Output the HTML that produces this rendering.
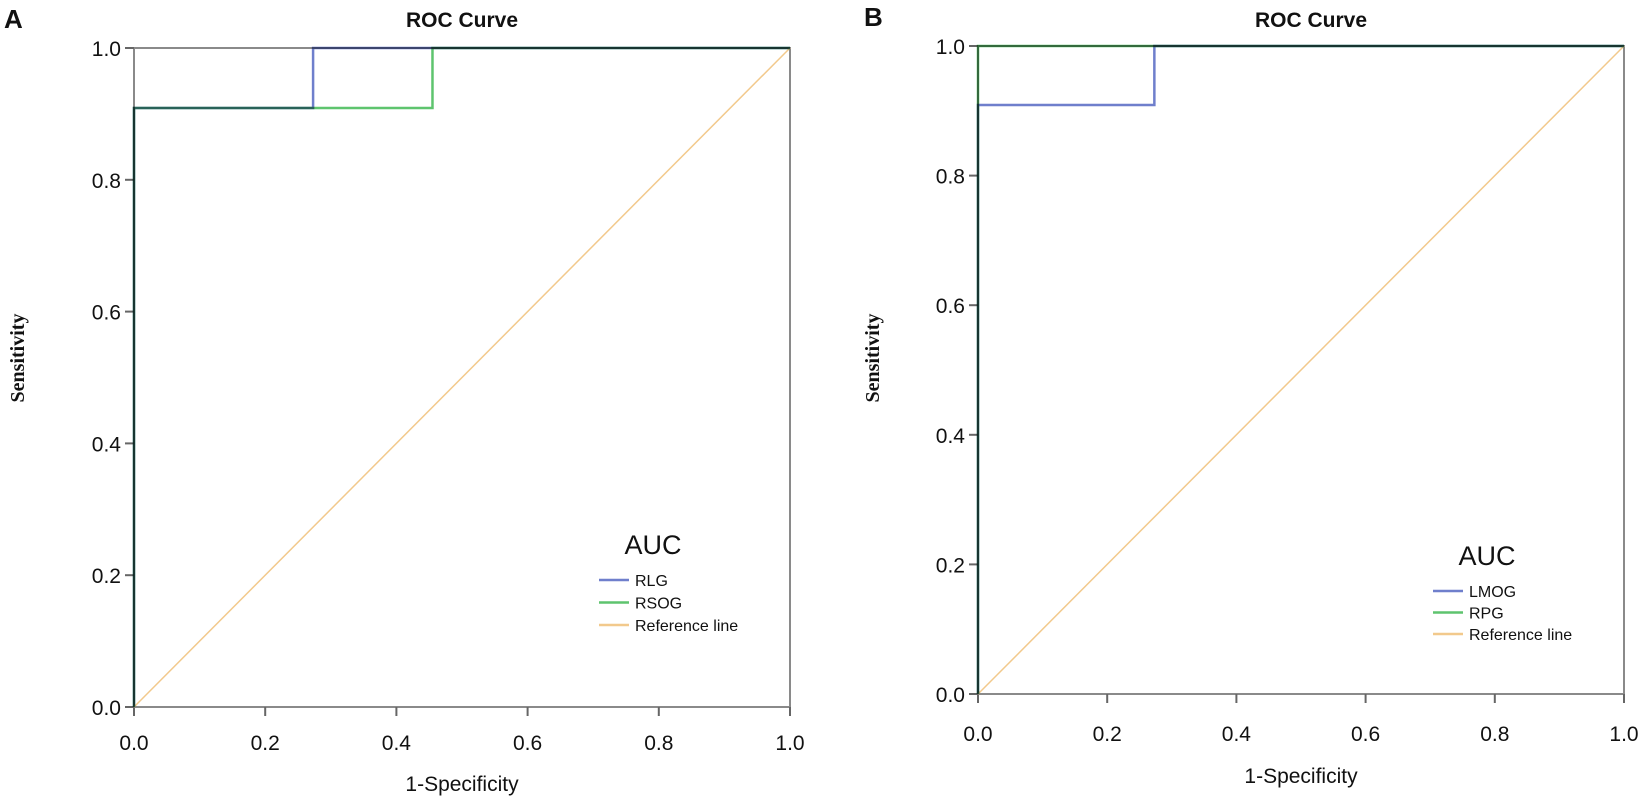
<!DOCTYPE html>
<html><head><meta charset="utf-8"><style>
html,body{margin:0;padding:0;background:#fff;}
svg{display:block;}
text{font-family:"Liberation Sans",sans-serif;fill:#111;}
.ser{mix-blend-mode:multiply;}
</style></head><body>
<svg id="fig" width="1650" height="801" viewBox="0 0 1650 801">
<rect x="0" y="0" width="1650" height="801" fill="#fff"/>
<text x="4" y="28" font-size="26" font-weight="bold">A</text>
<text x="864" y="26" font-size="26" font-weight="bold">B</text>
</svg>
<script>
// Panel A data
var panelATitle = "ROC Curve";
var aSeriesNames = ["RLG", "RSOG", "Reference line"];
var aRLGx = [0, 0, 0.273, 0.273, 1];
var aRLGy = [0, 0.909, 0.909, 1, 1];
var aRSOGx = [0, 0, 0.455, 0.455, 1];
var aRSOGy = [0, 0.909, 0.909, 1, 1];
// Panel B data
var bSeriesNames = ["LMOG", "RPG", "Reference line"];
var bLMOGx = [0, 0, 0.273, 0.273, 1];
var bLMOGy = [0, 0.909, 0.909, 1, 1];
var bRPGx = [0, 0, 1];
var bRPGy = [0, 1, 1];
var refX = [0, 1];
var refY = [0, 1];
var tickValues = [0, 0.2, 0.4, 0.6, 0.8, 1.0];
var tickLabels = ["0.0", "0.2", "0.4", "0.6", "0.8", "1.0"];

var NS = "http://www.w3.org/2000/svg";
var svg = document.getElementById("fig");
function mk(tag, attrs, parent) {
  var e = document.createElementNS(NS, tag);
  for (var k in attrs) e.setAttribute(k, attrs[k]);
  (parent || svg).appendChild(e);
  return e;
}
var COLORS = {blue: "#6f7fcc", green: "#5ec46e", ref: "#f2c98c"};

function drawPanel(p) {
  var g = mk("g", {});
  
  
  function sx(v) { return p.x0 + v * (p.x1 - p.x0); }
  function sy(v) { return p.y0 - v * (p.y0 - p.y1); }
  var t = mk("text", {x: p.titleX, y: 27, "font-size": 21, "font-weight": "bold", "text-anchor": "middle"}, g);
  t.textContent = panelATitle;
  
  
  var fr = mk("rect", {x: p.x0, y: p.y1, width: p.x1 - p.x0, height: p.y0 - p.y1, fill: "none", stroke: "#8a8a8a", "stroke-width": 2}, g);
  
  
  for (var i = 0; i < tickValues.length; i++) {
    var yy = sy(tickValues[i]);
    var tk = mk("line", {x1: p.x0 - 9, x2: p.x0, y1: yy, y2: yy, stroke: "#666", "stroke-width": 2}, g);
    
    
    var tl = mk("text", {x: p.x0 - 13, y: yy + 8, "font-size": 21, "text-anchor": "end"}, g);
    tl.textContent = tickLabels[i];
    
    
    var xx = sx(tickValues[i]);
    var tk2 = mk("line", {x1: xx, x2: xx, y1: p.y0, y2: p.y0 + 9, stroke: "#666", "stroke-width": 2}, g);
    
    
    var tl2 = mk("text", {x: xx, y: p.xLabY, "font-size": 21, "text-anchor": "middle"}, g);
    tl2.textContent = tickLabels[i];
    
    
  }
  var rp = refX.map(function (v, i) { return sx(v) + "," + sy(refY[i]); }).join(" ");
  var rl = mk("polyline", {points: rp, fill: "none", stroke: COLORS.ref, "stroke-width": 1.5}, g);
  
  
  p.series.forEach(function (s) {
    var pts = s.x.map(function (v, i) { return sx(v) + "," + sy(s.y[i]); }).join(" ");
    var pl = mk("polyline", {points: pts, fill: "none", stroke: s.color, "stroke-width": 2.5, "class": "ser"}, g);
    
    
  });
  var yt = mk("text", {x: 0, y: 0, "font-size": 20, "font-weight": "bold", "text-anchor": "middle", transform: "translate(" + p.yTitleX + "," + p.yTitleY + ") rotate(-90)", style: "font-family:'Liberation Serif',serif"}, g);
  yt.textContent = "Sensitivity";
  
  
  var xt = mk("text", {x: (p.x0 + p.x1) / 2, y: p.xTitleY, "font-size": 21, "text-anchor": "middle"}, g);
  xt.textContent = "1-Specificity";
  
  
  var lg = mk("g", {}, g);
  
  
  var at = mk("text", {x: p.legX + 54, y: p.legY - 26, "font-size": 27, "text-anchor": "middle"}, lg);
  at.textContent = "AUC";
  
  
  var cols = [COLORS.blue, COLORS.green, COLORS.ref];
  for (var j = 0; j < 3; j++) {
    var ly = p.legY + j * p.legStep;
    var ll = mk("line", {x1: p.legX, x2: p.legX + 30, y1: ly, y2: ly, stroke: cols[j], "stroke-width": 2.5}, lg);
    
    
    var lt = mk("text", {x: p.legX + 36, y: ly + 6, "font-size": 16}, lg);
    lt.textContent = p.names[j];
    
    
  }
}

drawPanel({id: "panel-a", x0: 134, x1: 790, y0: 707, y1: 48, titleX: 462, xLabY: 750, xTitleY: 791,
  yTitleX: 24, yTitleY: 358, legX: 599, legY: 580, legStep: 22.5, names: aSeriesNames,
  series: [{name: "RSOG", x: aRSOGx, y: aRSOGy, color: COLORS.green}, {name: "RLG", x: aRLGx, y: aRLGy, color: COLORS.blue}]});
drawPanel({id: "panel-b", x0: 978, x1: 1624, y0: 694, y1: 46, titleX: 1311, xLabY: 741, xTitleY: 783,
  yTitleX: 879, yTitleY: 358, legX: 1433, legY: 591, legStep: 21.5, names: bSeriesNames,
  series: [{name: "LMOG", x: bLMOGx, y: bLMOGy, color: COLORS.blue}, {name: "RPG", x: bRPGx, y: bRPGy, color: COLORS.green}]});
</script>
</body></html>
